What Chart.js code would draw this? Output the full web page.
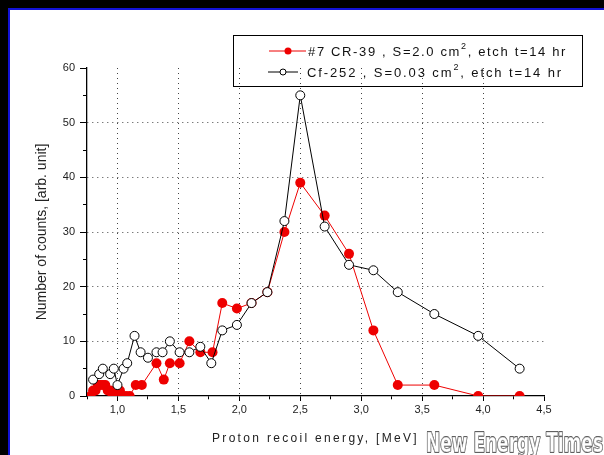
<!DOCTYPE html>
<html>
<head>
<meta charset="utf-8">
<script src="https://cdn.jsdelivr.net/npm/chart.js@4.4.1/dist/chart.umd.min.js"></script>
<style>
  html, body { margin: 0; padding: 0; background: #000; overflow: hidden; }
  #frame {
    position: absolute; left: 8px; top: 8px; width: 596px; height: 447px;
    background: #fff; border-left: 2px solid #1212d8; border-top: 2px solid #1212d8;
  }
  #chart { position: absolute; left: 0; top: 0; }
</style>
</head>
<body>
<div id="frame"></div>
<canvas id="chart" width="604" height="455"></canvas>
<script>
// #7 CR-39 (red, filled)
const redEnergy = [0.78, 0.80, 0.82, 0.84, 0.86, 0.88, 0.90, 0.92, 0.94, 0.96, 0.98, 1.00, 1.02,
  1.04, 1.07, 1.10, 1.15, 1.20,
  1.32, 1.38, 1.43, 1.51, 1.59, 1.68, 1.78, 1.86, 1.98, 2.10, 2.23, 2.37, 2.50, 2.70, 2.90,
  3.10, 3.30, 3.60, 3.96, 4.30];
const redCounts = [0, 1, 1, 2, 2, 2, 2, 1, 1, 0, 1, 1, 1,
  0, 0, 0, 2, 2,
  6, 3, 6, 6, 10, 8, 8, 17, 16, 17, 19, 30, 39, 33, 26,
  12, 2, 2, 0, 0];

// Cf-252 (black, open)
const cfEnergy = [0.80, 0.85, 0.88, 0.94, 0.97, 1.00, 1.05, 1.08, 1.14, 1.19, 1.25, 1.32, 1.37,
  1.43, 1.51, 1.59, 1.68, 1.77, 1.86, 1.98, 2.10, 2.23, 2.37, 2.50, 2.70, 2.90, 3.10, 3.30,
  3.60, 3.96, 4.30];
const cfCounts = [3, 4, 5, 4, 5, 2, 5, 6, 11, 8, 7, 8, 8,
  10, 8, 8, 9, 6, 12, 13, 17, 19, 32, 55, 31, 24, 23, 19,
  15, 11, 5];

const xMajor = [1.0, 1.5, 2.0, 2.5, 3.0, 3.5, 4.0, 4.5];
const xLabels = ['1,0', '1,5', '2,0', '2,5', '3,0', '3,5', '4,0', '4,5'];
const xMinor = [0.75, 1.25, 1.75, 2.25, 2.75, 3.25, 3.75, 4.25];
const yMajor = [0, 10, 20, 30, 40, 50, 60];
const yLabels = ['0', '10', '20', '30', '40', '50', '60'];
const yMinor = [5, 15, 25, 35, 45, 55];

const xTitle = 'Proton recoil energy, [MeV]';
const yTitle = 'Number of counts, [arb. unit]';
const legendRows = [
  [['#7 CR-39 , S=2.0 cm', false], ['2', true], [', etch t=14 hr', false]],
  [['Cf-252 , S=0.03 cm', false], ['2', true], [', etch t=14 hr', false]]
];
const watermark = 'New Energy Times';

const RED = '#ee0000';
const FONT = '"Liberation Sans", Arial, sans-serif';

function toPoints(xs, ys) {
  return xs.map((x, i) => ({ x: x, y: ys[i] }));
}

// text stretched with letter spacing to the width it has in the picture
function drawRun(ctx, parts, x, y, width, size) {
  ctx.letterSpacing = '0px';
  let natural = 0, count = 0;
  parts.forEach(([text, sup]) => {
    ctx.font = (sup ? size - 4 : size) + 'px ' + FONT;
    natural += ctx.measureText(text).width;
    count += text.length;
  });
  ctx.letterSpacing = ((width - natural) / count) + 'px';
  parts.forEach(([text, sup]) => {
    ctx.font = (sup ? size - 4 : size) + 'px ' + FONT;
    ctx.fillText(text, x, sup ? y - 5 : y);
    x += ctx.measureText(text).width;
  });
  ctx.letterSpacing = '0px';
}

const decorations = {
  id: 'decorations',
  afterDraw(chart) {
    const ctx = chart.ctx;
    const area = chart.chartArea;
    ctx.save();
    ctx.textBaseline = 'middle';
    ctx.fillStyle = '#222';

    // x axis title
    const titleW = 207;
    drawRun(ctx, [[xTitle, false]], (area.left + area.right) / 2 - titleW / 2, 439, titleW, 12);

    // legend box
    ctx.strokeStyle = '#000';
    ctx.lineWidth = 1;
    ctx.strokeRect(233.5, 35.5, 349, 51);

    ctx.strokeStyle = RED;
    ctx.beginPath(); ctx.moveTo(269, 51); ctx.lineTo(306, 51); ctx.stroke();
    ctx.fillStyle = RED;
    ctx.beginPath(); ctx.arc(288, 51, 3.5, 0, Math.PI * 2); ctx.fill();

    ctx.strokeStyle = '#000';
    ctx.beginPath(); ctx.moveTo(268, 72); ctx.lineTo(298, 72); ctx.stroke();
    ctx.fillStyle = '#fff';
    ctx.beginPath(); ctx.arc(283, 72, 3, 0, Math.PI * 2); ctx.fill(); ctx.stroke();

    ctx.fillStyle = '#111';
    drawRun(ctx, legendRows[0], 308, 52, 259, 13);
    drawRun(ctx, legendRows[1], 307, 73, 256, 13);

    // watermark
    ctx.font = 'bold 27px "DejaVu Sans Condensed"';
    const w = ctx.measureText(watermark).width;
    ctx.translate(426, 452);
    ctx.scale(177 / w, 1);
    ctx.textBaseline = 'alphabetic';
    ctx.lineJoin = 'round';
    ctx.strokeStyle = '#444';
    ctx.lineWidth = 1.8;
    ctx.strokeText(watermark, 0, 0);
    ctx.fillStyle = '#fff';
    ctx.fillText(watermark, 0, 0);
    ctx.strokeStyle = '#aaa';
    ctx.lineWidth = 0.6;
    ctx.strokeText(watermark, 0, 0);
    ctx.restore();
  }
};

const gridX = (c) => (c.tick && c.tick.value >= 1 && c.tick.value <= 4 && xMajor.includes(c.tick.value)) ? '#444' : 'rgba(0,0,0,0)';
const gridY = (c) => (c.tick && c.tick.value > 0 && c.tick.value < 60 && yMajor.includes(c.tick.value)) ? '#444' : 'rgba(0,0,0,0)';

new Chart(document.getElementById('chart'), {
  type: 'line',
  data: {
    datasets: [
      {
        label: 'CR-39',
        data: toPoints(redEnergy, redCounts),
        borderColor: RED,
        borderWidth: 1,
        pointRadius: 5,
        pointBackgroundColor: RED,
        pointBorderColor: RED,
        pointBorderWidth: 0,
        tension: 0,
        clip: 0,
        order: 1
      },
      {
        label: 'Cf-252',
        data: toPoints(cfEnergy, cfCounts),
        borderColor: '#000',
        borderWidth: 1,
        pointRadius: 4.5,
        pointBackgroundColor: '#fff',
        pointBorderColor: '#000',
        pointBorderWidth: 1,
        tension: 0,
        clip: 0,
        order: 0
      }
    ]
  },
  options: {
    responsive: false,
    animation: false,
    events: [],
    layout: { padding: { top: 68, right: 60, left: 0, bottom: 0 } },
    plugins: { legend: { display: false }, tooltip: { enabled: false } },
    scales: {
      x: {
        type: 'linear',
        min: 0.75,
        max: 4.5,
        afterBuildTicks: (scale) => {
          scale.ticks = [...xMajor, ...xMinor].sort((a, b) => a - b).map((v) => ({ value: v }));
        },
        afterFit: (scale) => { scale.height = 59; },
        ticks: {
          autoSkip: false,
          maxRotation: 0,
          padding: 2,
          color: '#222',
          font: { family: FONT, size: 11 },
          callback: (value) => {
            const i = xMajor.indexOf(value);
            return i >= 0 ? xLabels[i] : '';
          }
        },
        grid: {
          color: gridX,
          lineWidth: 1,
          tickLength: 5,
          tickColor: '#000',
          tickBorderDash: (c) => xMajor.includes(c.tick.value) ? [] : [3, 20]
        },
        border: { display: true, color: '#000', width: 1.3, dash: [1, 4] }
      },
      y: {
        min: 0,
        max: 60,
        afterBuildTicks: (scale) => {
          scale.ticks = [...yMajor, ...yMinor].sort((a, b) => a - b).map((v) => ({ value: v }));
        },
        afterFit: (scale) => { scale.width = 87; },
        ticks: {
          autoSkip: false,
          padding: 5,
          color: '#222',
          font: { family: FONT, size: 11 },
          callback: (value) => {
            const i = yMajor.indexOf(value);
            return i >= 0 ? yLabels[i] : '';
          }
        },
        grid: {
          color: gridY,
          lineWidth: 1,
          tickLength: 7,
          tickColor: '#000',
          tickBorderDash: (c) => yMajor.includes(c.tick.value) ? [] : [0, 3, 4, 20]
        },
        border: { display: true, color: '#000', width: 1.3, dash: [1, 4] },
        title: {
          display: true,
          text: yTitle,
          color: '#222',
          font: { family: FONT, size: 14 },
          padding: { top: 34, bottom: 0 }
        }
      }
    }
  },
  plugins: [decorations]
});
</script>
</body>
</html>
